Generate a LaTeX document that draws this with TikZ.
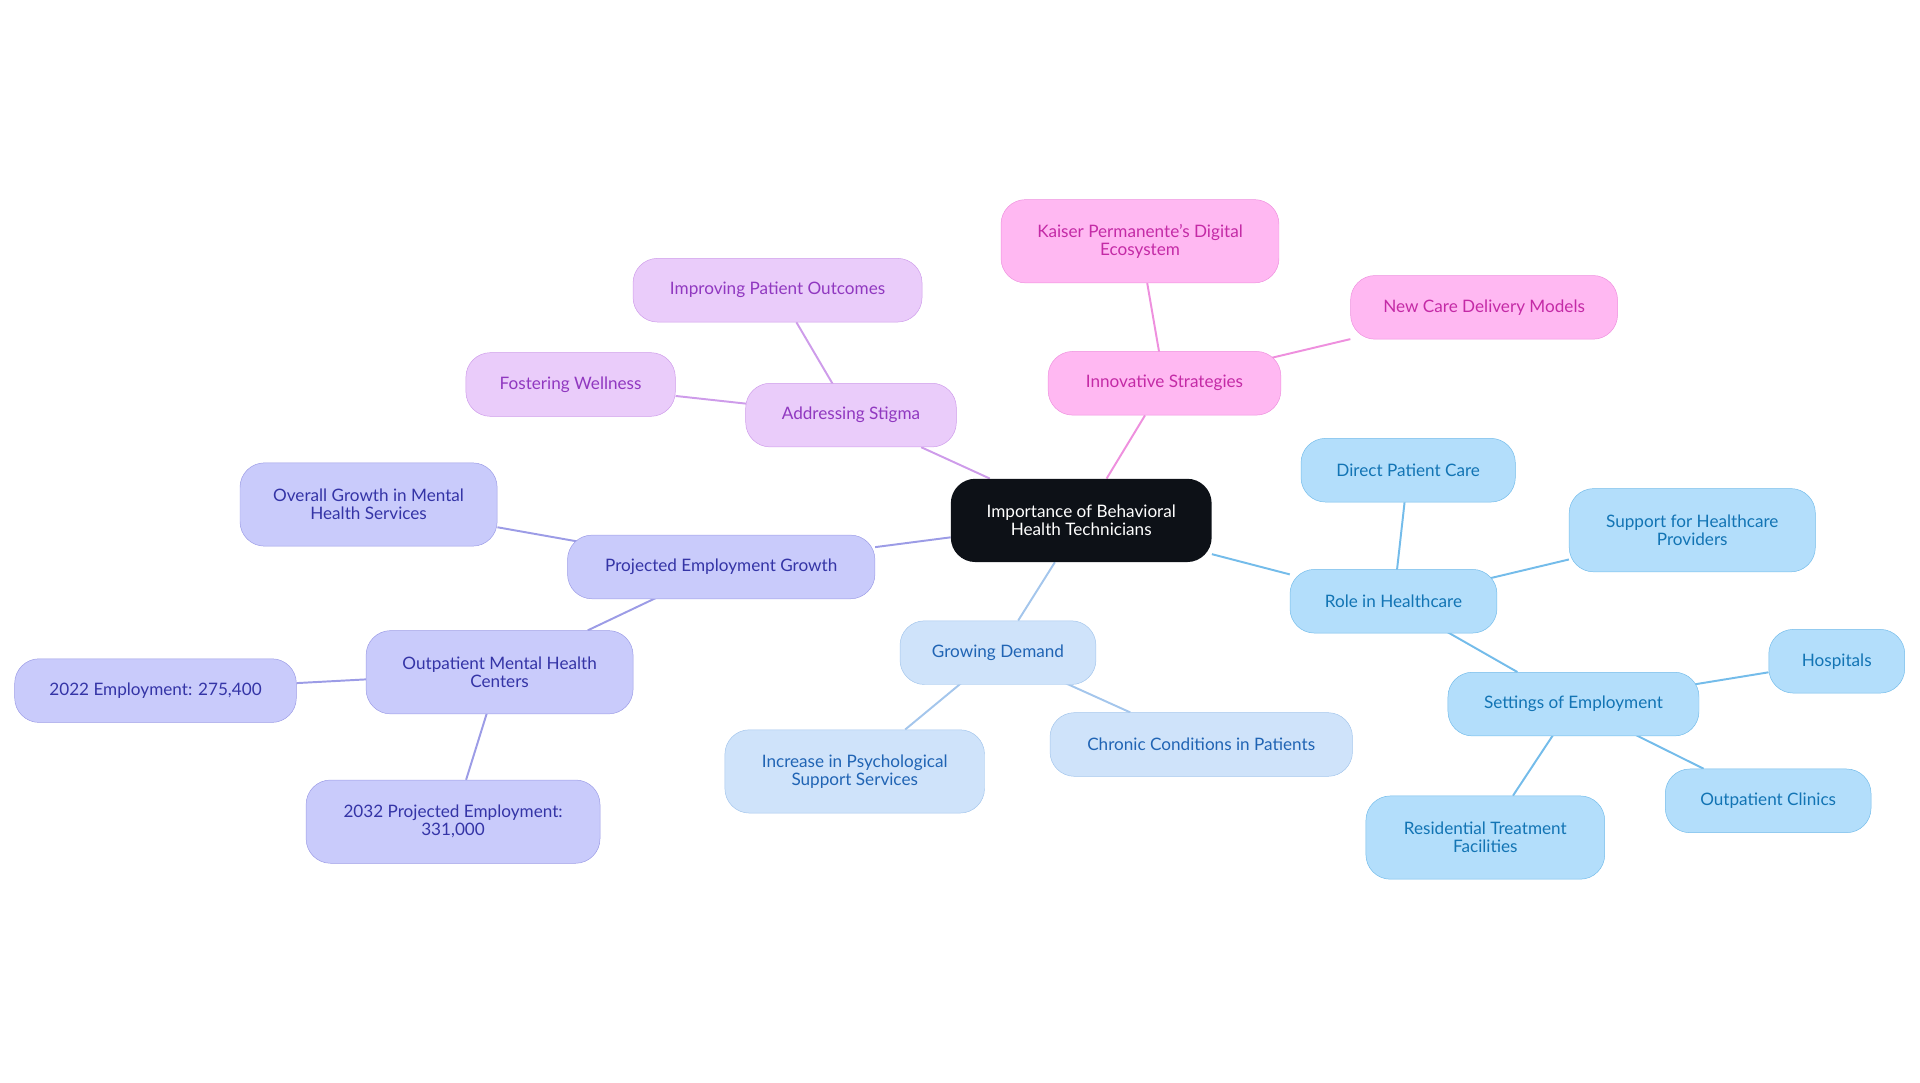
\documentclass[tikz,border=0pt]{standalone}
\usepackage{fontspec}
\setmainfont{Lato}
\usetikzlibrary{backgrounds}
\definecolor{rootfill}{HTML}{0D1117}
\definecolor{pinkfill}{HTML}{FFB8F2}\definecolor{pinkline}{HTML}{EE90DE}\definecolor{pinktext}{HTML}{C42AA6}
\definecolor{lavfill}{HTML}{EACCFA}\definecolor{lavline}{HTML}{CE9CEA}\definecolor{lavtext}{HTML}{9038C0}
\definecolor{indfill}{HTML}{C9CBFB}\definecolor{indline}{HTML}{9C9CE6}\definecolor{indtext}{HTML}{3434A6}
\definecolor{demfill}{HTML}{CFE3FA}\definecolor{demline}{HTML}{A4C6EC}\definecolor{demtext}{HTML}{2064B4}
\definecolor{skyfill}{HTML}{B3DEFB}\definecolor{skyline}{HTML}{74BCEA}\definecolor{skytext}{HTML}{1274B4}
\tikzset{
  topic/.style={rounded corners=20pt, minimum height=52pt, inner sep=0pt, align=center,
    font=\fontsize{14}{15}\selectfont},
  tall/.style={minimum height=68pt},
  root/.style={topic, fill=rootfill, text=white},
  pinknode/.style={topic, fill=pinkfill, draw=pinkline, text=pinktext},
  lavnode/.style={topic, fill=lavfill, draw=lavline, text=lavtext},
  indnode/.style={topic, fill=indfill, draw=indline, text=indtext},
  demnode/.style={topic, fill=demfill, draw=demline, text=demtext},
  skynode/.style={topic, fill=skyfill, draw=skyline, text=skytext},
  branch/.style={line width=1.6pt},
}
\begin{document}
\begin{tikzpicture}[x=1pt,y=-1pt]
  \useasboundingbox (0,0) rectangle (1568,884);
  % root
  \node[root, tall, minimum width=213pt] (bht) at (883,425) {Importance of Behavioral\\Health Technicians};
  % innovative strategies
  \node[pinknode, minimum width=190pt] (innov) at (951,313) {Innovative Strategies};
  \node[pinknode, tall, minimum width=227pt] (kaiser) at (931,197) {Kaiser Permanente's Digital\\Ecosystem};
  \node[pinknode, minimum width=218pt] (newcare) at (1212,251) {New Care Delivery Models};
  % stigma
  \node[lavnode, minimum width=172pt] (stigma) at (695,339) {Addressing Stigma};
  \node[lavnode, minimum width=236pt] (improve) at (635,237) {Improving Patient Outcomes};
  \node[lavnode, minimum width=171pt] (wellness) at (466,314) {Fostering Wellness};
  % employment growth
  \node[indnode, minimum width=251pt] (growth) at (589,463) {Projected Employment Growth};
  \node[indnode, tall, minimum width=210pt] (overall) at (301,412) {Overall Growth in Mental\\Health Services};
  \node[indnode, tall, minimum width=218pt] (omhc) at (408,549) {Outpatient Mental Health\\Centers};
  \node[indnode, minimum width=230pt] (emp22) at (127,564) {2022 Employment: 275,400};
  \node[indnode, tall, minimum width=240pt] (emp32) at (370,671) {2032 Projected Employment:\\331,000};
  % demand
  \node[demnode, minimum width=160pt] (demand) at (815,533) {Growing Demand};
  \node[demnode, tall, minimum width=212pt] (psych) at (698,630) {Increase in Psychological\\Support Services};
  \node[demnode, minimum width=247pt] (chronic) at (981,608) {Chronic Conditions in Patients};
  % role
  \node[skynode, minimum width=169pt] (role) at (1138,491) {Role in Healthcare};
  \node[skynode, minimum width=175pt] (direct) at (1150,384) {Direct Patient Care};
  \node[skynode, tall, minimum width=201pt] (support) at (1382,433) {Support for Healthcare\\Providers};
  \node[skynode, minimum width=205pt] (settings) at (1285,575) {Settings of Employment};
  \node[skynode, minimum width=111pt] (hosp) at (1500,540) {Hospitals};
  \node[skynode, minimum width=168pt] (clinics) at (1444,654) {Outpatient Clinics};
  \node[skynode, tall, minimum width=195pt] (resid) at (1213,684) {Residential Treatment\\Facilities};
  %
  % connectors
  \begin{scope}[on background layer]
    \draw[branch, pinkline] (bht) -- (innov);
    \foreach \n in {kaiser,newcare} \draw[branch, pinkline] (innov.center) -- (\n);
    \draw[branch, lavline] (bht) -- (stigma);
    \foreach \n in {improve,wellness} \draw[branch, lavline] (stigma.center) -- (\n);
    \draw[branch, indline] (bht) -- (growth);
    \foreach \n in {overall,omhc} \draw[branch, indline] (growth.center) -- (\n);
    \foreach \n in {emp22,emp32} \draw[branch, indline] (omhc.center) -- (\n);
    \draw[branch, demline] (bht) -- (demand);
    \foreach \n in {psych,chronic} \draw[branch, demline] (demand.center) -- (\n);
    \draw[branch, skyline] (bht) -- (role);
    \foreach \n in {direct,support,settings} \draw[branch, skyline] (role.center) -- (\n);
    \foreach \n in {hosp,clinics,resid} \draw[branch, skyline] (settings.center) -- (\n);
  \end{scope}
\end{tikzpicture}
\end{document}
